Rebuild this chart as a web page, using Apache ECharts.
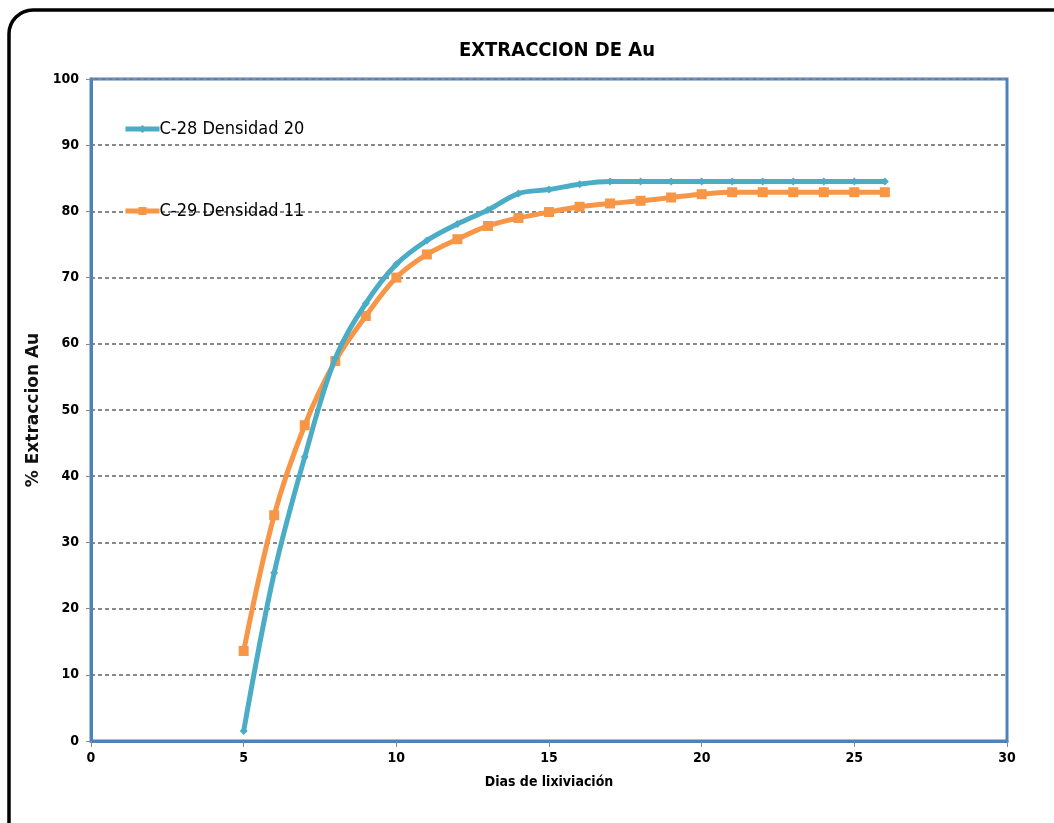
<!DOCTYPE html>
<html>
<head>
<meta charset="utf-8">
<script src="https://cdn.jsdelivr.net/npm/echarts@6/dist/echarts.min.js"></script>
<style>
html, body { margin: 0; padding: 0; background: #fff; }
#main { width: 1054px; height: 823px; }
</style>
</head>
<body>
<div id="main"></div>
<script>
var dias = [5,6,7,8,9,10,11,12,13,14,15,16,17,18,19,20,21,22,23,24,25,26];
var c28 = [1.5,25.4,42.9,57.8,66.1,72.0,75.6,78.1,80.2,82.7,83.3,84.1,84.5,84.5,84.5,84.5,84.5,84.5,84.5,84.5,84.5,84.5];
var c29 = [13.6,34.1,47.7,57.4,64.2,70.0,73.5,75.8,77.8,79.0,79.9,80.7,81.2,81.6,82.1,82.6,82.9,82.9,82.9,82.9,82.9,82.9];
var yTicks = [0,10,20,30,40,50,60,70,80,90,100];

function pares(xs, ys){
	var out = [];
	for(i=0;i<xs.length;i++){
		out.push([xs[i], ys[i]]);
	}
	return out;
}

var narrow = '"DejaVu Sans Condensed", "Liberation Sans Narrow", sans-serif';

var myChart = echarts.init(document.getElementById('main'));
var option = {
	animation: false,
	backgroundColor: '#fff',
	graphic: [
		{
			type: 'rect',
			shape: {x: 9, y: 10, width: 1070, height: 840, r: 24},
			style: {fill: 'none', stroke: '#000', lineWidth: 3.5},
			silent: true
		}
	],
	title: {
		text: 'EXTRACCION DE Au',
		left: 552,
		top: 36,
		textAlign: 'center',
		textStyle: {fontFamily: narrow, fontSize: 20, fontWeight: 'bold', color: '#000'}
	},
	legend: {
		orient: 'vertical',
		left: 118,
		top: 115,
		itemGap: 64,
		itemWidth: 34,
		itemHeight: 10,
		lineStyle: {width: 5},
		data: ['C-28 Densidad 20', 'C-29 Densidad 11'],
		textStyle: {fontFamily: narrow, fontSize: 18, color: '#000', padding: [0,0,0,-5]}
	},
	grid: {left: 91, right: 47, top: 79, bottom: 82, show: true, borderColor: '#4F81BD', borderWidth: 3, containLabel: false},
	xAxis: {
		type: 'value',
		min: 0, max: 30, interval: 5,
		name: 'Dias de lixiviación',
		nameLocation: 'middle',
		nameGap: 34,
		nameTextStyle: {fontFamily: narrow, fontSize: 14, fontWeight: 'bold', color: '#000'},
		axisLine: {lineStyle: {color: '#4F81BD', width: 3}},
		axisTick: {show: true, length: 6, lineStyle: {color: '#888'}},
		axisLabel: {fontFamily: narrow, fontSize: 14, fontWeight: 'bold', color: '#000', margin: 10},
		splitLine: {show: false}
	},
	yAxis: {
		type: 'value',
		min: 0, max: 100, interval: 10,
		name: '% Extraccion Au',
		nameLocation: 'middle',
		nameGap: 43,
		nameTextStyle: {fontFamily: '"DejaVu Sans", sans-serif', fontSize: 17, fontWeight: 'bold', color: '#111'},
		axisLine: {show: true, lineStyle: {color: '#4F81BD', width: 3}},
		axisTick: {show: true, length: 5, lineStyle: {color: '#888'}},
		axisLabel: {fontFamily: narrow, fontSize: 14, fontWeight: 'bold', color: '#000', margin: 12,
			formatter: function(v){ return yTicks.indexOf(v) >= 0 ? String(v) : ''; }},
		splitLine: {show: true, lineStyle: {color: '#888', type: [4,3], width: 2}}
	},
	series: [
		{
			name: 'C-28 Densidad 20',
			type: 'line',
			smooth: 0.35,
			data: pares(dias, c28),
			symbol: 'diamond',
			symbolSize: 8,
			lineStyle: {color: '#4BACC6', width: 5},
			itemStyle: {color: '#4BACC6'},
			z: 3
		},
		{
			name: 'C-29 Densidad 11',
			type: 'line',
			smooth: 0.35,
			data: pares(dias, c29),
			symbol: 'rect',
			symbolSize: 10,
			lineStyle: {color: '#F79646', width: 5},
			itemStyle: {color: '#F79646'},
			z: 2
		}
	]
};
myChart.setOption(option);
</script>
</body>
</html>
